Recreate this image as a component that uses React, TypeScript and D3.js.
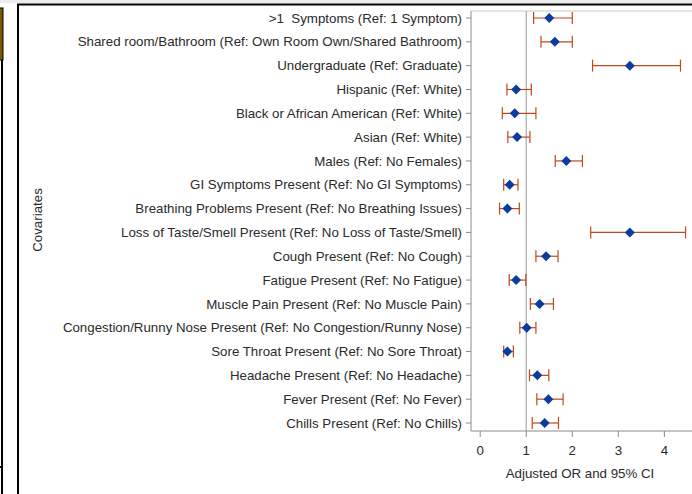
import React from 'react';
import * as d3 from 'd3';

// covariates, top to bottom
const labels = [
  '>1  Symptoms (Ref: 1 Symptom)',
  'Shared room/Bathroom (Ref: Own Room Own/Shared Bathroom)',
  'Undergraduate (Ref: Graduate)',
  'Hispanic (Ref: White)',
  'Black or African American (Ref: White)',
  'Asian (Ref: White)',
  'Males (Ref: No Females)',
  'GI Symptoms Present (Ref: No GI Symptoms)',
  'Breathing Problems Present (Ref: No Breathing Issues)',
  'Loss of Taste/Smell Present (Ref: No Loss of Taste/Smell)',
  'Cough Present (Ref: No Cough)',
  'Fatigue Present (Ref: No Fatigue)',
  'Muscle Pain Present (Ref: No Muscle Pain)',
  'Congestion/Runny Nose Present (Ref: No Congestion/Runny Nose)',
  'Sore Throat Present (Ref: No Sore Throat)',
  'Headache Present (Ref: No Headache)',
  'Fever Present (Ref: No Fever)',
  'Chills Present (Ref: No Chills)',
];
const oddsRatio = [1.5, 1.62, 3.25, 0.78, 0.75, 0.8, 1.87, 0.64, 0.59, 3.25, 1.43, 0.78, 1.29, 1.01, 0.59, 1.24, 1.48, 1.4];
const lowerCI = [1.16, 1.32, 2.44, 0.58, 0.48, 0.6, 1.63, 0.51, 0.42, 2.4, 1.21, 0.63, 1.09, 0.86, 0.51, 1.07, 1.23, 1.13];
const upperCI = [2.0, 2.0, 4.35, 1.11, 1.21, 1.08, 2.22, 0.82, 0.85, 4.46, 1.69, 0.99, 1.59, 1.21, 0.72, 1.49, 1.8, 1.7];
const xTicks = [0, 1, 2, 3, 4];

const W = 692, H = 494;
const font = '"Liberation Sans", Arial, sans-serif';
const fs = 13.3;

export default function App() {
  const plot = { l: 471, t: 11, b: 431 };
  const x = d3.scaleLinear().domain([-0.2, 4.6]).range([plot.l, 692]);
  const y = d3.scalePoint<string>().domain(labels).range([18, 423]);
  const axisCol = '#8c8c8c';
  const barCol = '#c2471a';
  const dotCol = '#0b3b9e';
  const txt = '#2a2a2a';

  return (
    <div style={{ position: 'absolute', left: 0, top: 0 }}>
      <svg width={W} height={H} style={{ display: 'block', fontFamily: font }}>
        <rect x={0} y={0} width={W} height={H} fill="#fff" />
        {/* window chrome around the graph */}
        <rect x={0} y={0} width={W} height={3} fill="#ececec" />
        <line x1={17} x2={W} y1={4.5} y2={4.5} stroke="#000" strokeWidth={2} />
        <line x1={18} x2={18} y1={4} y2={H} stroke="#000" strokeWidth={2} />
        <rect x={-1} y={8} width={4} height={52} fill="#7a5a00" stroke="#000" strokeWidth={1} />
        <line x1={2} x2={2} y1={60} y2={H} stroke="#000" strokeWidth={2} />
        <line x1={0} x2={3} y1={467} y2={467} stroke="#000" strokeWidth={2} />

        {/* plot frame */}
        <line x1={plot.l} x2={W} y1={plot.t} y2={plot.t} stroke="#c8c8c8" />
        <line x1={plot.l} x2={plot.l} y1={plot.t} y2={plot.b} stroke={axisCol} />
        <line x1={plot.l} x2={W} y1={plot.b} y2={plot.b} stroke={axisCol} />
        <line x1={x(1)} x2={x(1)} y1={plot.t} y2={plot.b} stroke="#a8a8a8" strokeWidth={1.2} />

        {/* y axis */}
        {labels.map((lab) => (
          <g key={lab} transform={`translate(0,${y(lab)})`}>
            <line x1={plot.l - 5} x2={plot.l} stroke={axisCol} />
            <text x={plot.l - 9} dy="0.35em" textAnchor="end" fontSize={fs} fill={txt} style={{ whiteSpace: 'pre' }}>
              {lab}
            </text>
          </g>
        ))}
        <text transform="translate(42,220) rotate(-90)" textAnchor="middle" fontSize={fs} fill={txt}>
          Covariates
        </text>

        {/* x axis */}
        {xTicks.map((t) => (
          <g key={t} transform={`translate(${x(t)},${plot.b})`}>
            <line y1={0} y2={6} stroke={axisCol} />
            <text y={24} textAnchor="middle" fontSize={fs} fill={txt}>{t}</text>
          </g>
        ))}
        <text x={580} y={478} textAnchor="middle" fontSize={fs} fill={txt}>
          Adjusted OR and 95% CI
        </text>

        {/* CIs and estimates */}
        {labels.map((lab, i) => {
          const cy = y(lab) as number;
          const x0 = x(lowerCI[i]), x1 = x(upperCI[i]), cx = x(oddsRatio[i]);
          return (
            <g key={lab}>
              <line x1={x0} x2={x1} y1={cy} y2={cy} stroke={barCol} strokeWidth={1.2} />
              <line x1={x0} x2={x0} y1={cy - 6} y2={cy + 6} stroke={barCol} strokeWidth={1.2} />
              <line x1={x1} x2={x1} y1={cy - 6} y2={cy + 6} stroke={barCol} strokeWidth={1.2} />
              <path d={`M${cx},${cy - 5}L${cx + 5},${cy}L${cx},${cy + 5}L${cx - 5},${cy}Z`} fill={dotCol} />
            </g>
          );
        })}
      </svg>
    </div>
  );
}
